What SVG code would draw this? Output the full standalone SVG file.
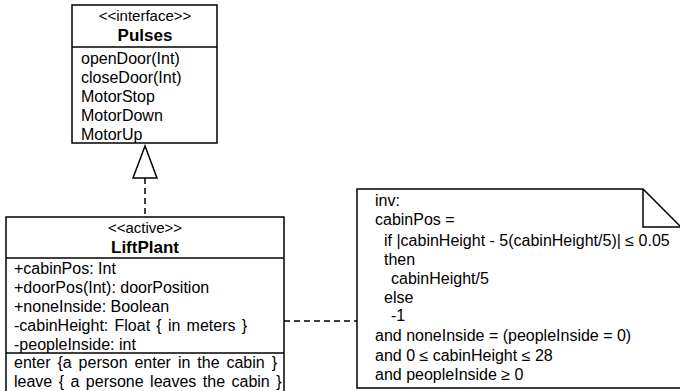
<svg xmlns="http://www.w3.org/2000/svg" width="680" height="391" viewBox="0 0 680 391">
<style>
text{font-family:"Liberation Sans",Arial,sans-serif;fill:#000}
.t{font-size:16px}
.s{font-size:15px}
.h{font-size:17px;font-weight:bold}
.box{fill:#fff;stroke:#000;stroke-width:1.5}
.ln{stroke:#000;stroke-width:1.5;fill:none}
.dash{stroke:#000;stroke-width:1.5;fill:none;stroke-dasharray:6 4}
</style>
<rect width="680" height="391" fill="#fff"/>
<g id="connectors">
<line class="dash" x1="145" y1="178" x2="145" y2="217"/>
<polygon points="145,146 133,178 157,178" fill="#fff" stroke="#000" stroke-width="1.5"/>
<line class="dash" x1="284" y1="321" x2="357" y2="321"/>
</g>
<g id="Pulses">
<rect class="box" x="72" y="5" width="145" height="138"/>
<line class="ln" x1="72" y1="47" x2="217" y2="47"/>
<text class="s" x="145" y="21" text-anchor="middle">&lt;&lt;interface&gt;&gt;</text>
<text class="h" x="145" y="41" text-anchor="middle">Pulses</text>
<text class="t" x="81" y="64">openDoor(Int)</text>
<text class="t" x="81" y="83">closeDoor(Int)</text>
<text class="t" x="81" y="102">MotorStop</text>
<text class="t" x="81" y="121">MotorDown</text>
<text class="t" x="81" y="140">MotorUp</text>
</g>
<g id="LiftPlant">
<rect class="box" x="6" y="217" width="278" height="190"/>
<line class="ln" x1="6" y1="258" x2="284" y2="258"/>
<line class="ln" x1="6" y1="353" x2="284" y2="353"/>
<text class="s" x="145" y="233" text-anchor="middle">&lt;&lt;active&gt;&gt;</text>
<text class="h" x="145" y="253" text-anchor="middle">LiftPlant</text>
<text class="t" x="14" y="274">+cabinPos: Int</text>
<text class="t" x="14" y="293">+doorPos(Int): doorPosition</text>
<text class="t" x="14" y="312">+noneInside: Boolean</text>
<text class="t" x="14" y="331" word-spacing="1.8">-cabinHeight: Float { in meters }</text>
<text class="t" x="14" y="350">-peopleInside: int</text>
<text class="t" x="14" y="368" word-spacing="2.5">enter {a person enter in the cabin }</text>
<text class="t" x="14" y="387" word-spacing="2">leave { a persone leaves the cabin }</text>
</g>
<g id="note">
<path class="box" d="M357,189 H643 L681,227 V388 H357 Z"/>
<path class="ln" d="M643,189 V227 H681"/>
<text class="t" x="375" y="206">inv:</text>
<text class="t" x="375" y="225">cabinPos =</text>
<text class="t" x="384" y="246">if |cabinHeight - 5(cabinHeight/5)| ≤ 0.05</text>
<text class="t" x="384" y="265">then</text>
<text class="t" x="391" y="284">cabinHeight/5</text>
<text class="t" x="384" y="303">else</text>
<text class="t" x="391" y="321">-1</text>
<text class="t" x="375" y="341">and noneInside = (peopleInside = 0)</text>
<text class="t" x="375" y="361">and 0 ≤ cabinHeight ≤ 28</text>
<text class="t" x="375" y="380">and peopleInside ≥ 0</text>
</g>
</svg>
